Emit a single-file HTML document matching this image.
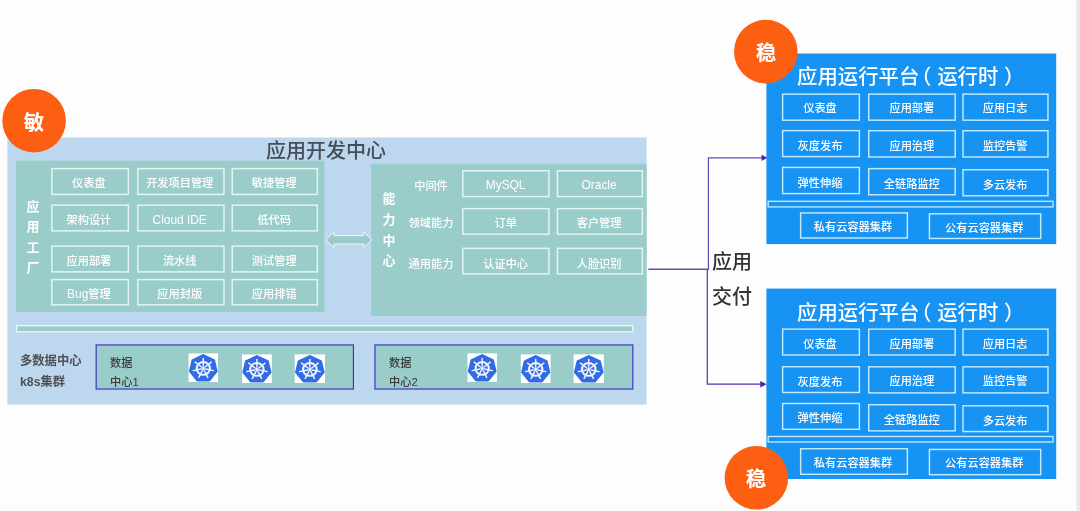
<!DOCTYPE html>
<html lang="zh-CN">
<head>
<meta charset="utf-8">
<title>应用开发中心</title>
<style>
*{margin:0;padding:0;box-sizing:border-box}
html,body{width:1080px;height:511px;overflow:hidden;background:#fdfdfd}
body{position:relative;font-family:"Liberation Sans","Noto Sans CJK SC",sans-serif}
#s{position:absolute;left:0;top:0;width:1100px;height:531px}
#s>*{position:absolute}
#g{left:0;top:0}
.t{white-space:nowrap;will-change:transform}
.b{color:#fff;font-size:11.2px;text-align:center;font-weight:500}
.h1{font-size:20px;color:#464e5a;text-align:center;font-weight:500}
.h2{font-size:20px;color:#333;font-weight:500}
.h3{font-size:20.4px;color:#fff;font-weight:500}
.p1{position:relative;left:-8.3px;margin-right:-2.5px}
.l{font-size:11.9px}
.p2{position:relative;left:5.5px}
.v{font-size:12.9px;font-weight:bold;color:#fff;text-align:center}
.w{font-size:11.2px;color:#fff;text-align:center;font-weight:500}
.g{font-size:12.3px;font-weight:bold;color:#515154}
.d{font-size:11.2px;color:#3a3a3a;font-weight:500}
.ct{font-size:20.5px;font-weight:bold;color:#fff;text-align:center}
</style>
</head>
<body>
<div id="s">
<svg id="g" width="1100" height="531" viewBox="0 0 1100 531">
<rect x="7.4" y="137.5" width="639.2" height="267.1" fill="#bdd7ee"/>
<rect x="16" y="160.7" width="308.4" height="151.3" fill="#9acdca"/>
<rect x="371.1" y="163.7" width="275.5" height="152.3" fill="#9acdca"/>
<rect x="51.83" y="168.62" width="76.55" height="25.75" fill="none" stroke="#e2f6f4" stroke-width="1.45"/>
<rect x="137.82" y="168.62" width="86.15" height="25.75" fill="none" stroke="#e2f6f4" stroke-width="1.45"/>
<rect x="232.22" y="168.62" width="85.15" height="25.75" fill="none" stroke="#e2f6f4" stroke-width="1.45"/>
<rect x="51.83" y="205.12" width="76.55" height="25.75" fill="none" stroke="#e2f6f4" stroke-width="1.45"/>
<rect x="137.82" y="205.12" width="86.15" height="25.75" fill="none" stroke="#e2f6f4" stroke-width="1.45"/>
<rect x="232.22" y="205.12" width="85.15" height="25.75" fill="none" stroke="#e2f6f4" stroke-width="1.45"/>
<rect x="51.83" y="246.12" width="76.55" height="25.75" fill="none" stroke="#e2f6f4" stroke-width="1.45"/>
<rect x="137.82" y="246.12" width="86.15" height="25.75" fill="none" stroke="#e2f6f4" stroke-width="1.45"/>
<rect x="232.22" y="246.12" width="85.15" height="25.75" fill="none" stroke="#e2f6f4" stroke-width="1.45"/>
<rect x="51.83" y="279.62" width="76.55" height="25.25" fill="none" stroke="#e2f6f4" stroke-width="1.45"/>
<rect x="137.82" y="279.62" width="86.15" height="25.25" fill="none" stroke="#e2f6f4" stroke-width="1.45"/>
<rect x="232.22" y="279.62" width="85.15" height="25.25" fill="none" stroke="#e2f6f4" stroke-width="1.45"/>
<rect x="462.82" y="170.72" width="86.05" height="25.85" fill="none" stroke="#e2f6f4" stroke-width="1.45"/>
<rect x="557.42" y="170.72" width="84.95" height="25.85" fill="none" stroke="#e2f6f4" stroke-width="1.45"/>
<rect x="462.82" y="208.62" width="86.05" height="25.55" fill="none" stroke="#e2f6f4" stroke-width="1.45"/>
<rect x="557.42" y="208.62" width="84.95" height="25.55" fill="none" stroke="#e2f6f4" stroke-width="1.45"/>
<rect x="462.82" y="248.32" width="86.05" height="25.55" fill="none" stroke="#e2f6f4" stroke-width="1.45"/>
<rect x="557.42" y="248.32" width="84.95" height="25.55" fill="none" stroke="#e2f6f4" stroke-width="1.45"/>
<path d="M325.6 239.8 L333.9 231.9 L333.9 235.6 L363.7 235.6 L363.7 231.9 L372 239.8 L363.7 247.7 L363.7 244 L333.9 244 L333.9 247.7 Z" fill="#9acdca" stroke="#ecf8f7" stroke-width="1" stroke-linejoin="miter"/>
<rect x="16.68" y="325.68" width="616.05" height="6.15" fill="#9acdca" stroke="#eaf8f7" stroke-width="1.35"/>
<rect x="96.17" y="344.97" width="257.25" height="44.05" fill="#9acdca" stroke="#3d31bd" stroke-width="1.15"/>
<rect x="374.97" y="344.97" width="257.85" height="44.05" fill="#9acdca" stroke="#3d31bd" stroke-width="1.15"/>
<g transform="translate(188.6 353.4) scale(0.2940 0.2860)"><rect width="100" height="100" fill="#fff"/><polygon points="50.0,7.0 85.6,24.1 94.4,62.6 69.7,93.5 30.3,93.5 5.6,62.6 14.4,24.1" fill="#326ce5" stroke="#326ce5" stroke-width="9" stroke-linejoin="round"/><g stroke="#eef3fd" stroke-width="5" stroke-linecap="round" fill="none"><line x1="50.0" y1="44.5" x2="50.0" y2="17.5"/><line x1="56.3" y1="47.5" x2="77.4" y2="30.7"/><line x1="57.8" y1="54.3" x2="84.1" y2="60.3"/><line x1="53.5" y1="59.7" x2="65.2" y2="84.0"/><line x1="46.5" y1="59.7" x2="34.8" y2="84.0"/><line x1="42.2" y1="54.3" x2="15.9" y2="60.3"/><line x1="43.7" y1="47.5" x2="22.6" y2="30.7"/><circle cx="50" cy="52.5" r="22.5" stroke-width="7"/></g><circle cx="50" cy="52.5" r="5.5" fill="#eef3fd"/></g>
<g transform="translate(242 354.4) scale(0.2980 0.2860)"><rect width="100" height="100" fill="#fff"/><polygon points="50.0,7.0 85.6,24.1 94.4,62.6 69.7,93.5 30.3,93.5 5.6,62.6 14.4,24.1" fill="#326ce5" stroke="#326ce5" stroke-width="9" stroke-linejoin="round"/><g stroke="#eef3fd" stroke-width="5" stroke-linecap="round" fill="none"><line x1="50.0" y1="44.5" x2="50.0" y2="17.5"/><line x1="56.3" y1="47.5" x2="77.4" y2="30.7"/><line x1="57.8" y1="54.3" x2="84.1" y2="60.3"/><line x1="53.5" y1="59.7" x2="65.2" y2="84.0"/><line x1="46.5" y1="59.7" x2="34.8" y2="84.0"/><line x1="42.2" y1="54.3" x2="15.9" y2="60.3"/><line x1="43.7" y1="47.5" x2="22.6" y2="30.7"/><circle cx="50" cy="52.5" r="22.5" stroke-width="7"/></g><circle cx="50" cy="52.5" r="5.5" fill="#eef3fd"/></g>
<g transform="translate(294.7 354.4) scale(0.3030 0.2860)"><rect width="100" height="100" fill="#fff"/><polygon points="50.0,7.0 85.6,24.1 94.4,62.6 69.7,93.5 30.3,93.5 5.6,62.6 14.4,24.1" fill="#326ce5" stroke="#326ce5" stroke-width="9" stroke-linejoin="round"/><g stroke="#eef3fd" stroke-width="5" stroke-linecap="round" fill="none"><line x1="50.0" y1="44.5" x2="50.0" y2="17.5"/><line x1="56.3" y1="47.5" x2="77.4" y2="30.7"/><line x1="57.8" y1="54.3" x2="84.1" y2="60.3"/><line x1="53.5" y1="59.7" x2="65.2" y2="84.0"/><line x1="46.5" y1="59.7" x2="34.8" y2="84.0"/><line x1="42.2" y1="54.3" x2="15.9" y2="60.3"/><line x1="43.7" y1="47.5" x2="22.6" y2="30.7"/><circle cx="50" cy="52.5" r="22.5" stroke-width="7"/></g><circle cx="50" cy="52.5" r="5.5" fill="#eef3fd"/></g>
<g transform="translate(467.5 353.4) scale(0.2940 0.2860)"><rect width="100" height="100" fill="#fff"/><polygon points="50.0,7.0 85.6,24.1 94.4,62.6 69.7,93.5 30.3,93.5 5.6,62.6 14.4,24.1" fill="#326ce5" stroke="#326ce5" stroke-width="9" stroke-linejoin="round"/><g stroke="#eef3fd" stroke-width="5" stroke-linecap="round" fill="none"><line x1="50.0" y1="44.5" x2="50.0" y2="17.5"/><line x1="56.3" y1="47.5" x2="77.4" y2="30.7"/><line x1="57.8" y1="54.3" x2="84.1" y2="60.3"/><line x1="53.5" y1="59.7" x2="65.2" y2="84.0"/><line x1="46.5" y1="59.7" x2="34.8" y2="84.0"/><line x1="42.2" y1="54.3" x2="15.9" y2="60.3"/><line x1="43.7" y1="47.5" x2="22.6" y2="30.7"/><circle cx="50" cy="52.5" r="22.5" stroke-width="7"/></g><circle cx="50" cy="52.5" r="5.5" fill="#eef3fd"/></g>
<g transform="translate(520.8 354.4) scale(0.2980 0.2860)"><rect width="100" height="100" fill="#fff"/><polygon points="50.0,7.0 85.6,24.1 94.4,62.6 69.7,93.5 30.3,93.5 5.6,62.6 14.4,24.1" fill="#326ce5" stroke="#326ce5" stroke-width="9" stroke-linejoin="round"/><g stroke="#eef3fd" stroke-width="5" stroke-linecap="round" fill="none"><line x1="50.0" y1="44.5" x2="50.0" y2="17.5"/><line x1="56.3" y1="47.5" x2="77.4" y2="30.7"/><line x1="57.8" y1="54.3" x2="84.1" y2="60.3"/><line x1="53.5" y1="59.7" x2="65.2" y2="84.0"/><line x1="46.5" y1="59.7" x2="34.8" y2="84.0"/><line x1="42.2" y1="54.3" x2="15.9" y2="60.3"/><line x1="43.7" y1="47.5" x2="22.6" y2="30.7"/><circle cx="50" cy="52.5" r="22.5" stroke-width="7"/></g><circle cx="50" cy="52.5" r="5.5" fill="#eef3fd"/></g>
<g transform="translate(573.6 354.4) scale(0.3030 0.2860)"><rect width="100" height="100" fill="#fff"/><polygon points="50.0,7.0 85.6,24.1 94.4,62.6 69.7,93.5 30.3,93.5 5.6,62.6 14.4,24.1" fill="#326ce5" stroke="#326ce5" stroke-width="9" stroke-linejoin="round"/><g stroke="#eef3fd" stroke-width="5" stroke-linecap="round" fill="none"><line x1="50.0" y1="44.5" x2="50.0" y2="17.5"/><line x1="56.3" y1="47.5" x2="77.4" y2="30.7"/><line x1="57.8" y1="54.3" x2="84.1" y2="60.3"/><line x1="53.5" y1="59.7" x2="65.2" y2="84.0"/><line x1="46.5" y1="59.7" x2="34.8" y2="84.0"/><line x1="42.2" y1="54.3" x2="15.9" y2="60.3"/><line x1="43.7" y1="47.5" x2="22.6" y2="30.7"/><circle cx="50" cy="52.5" r="22.5" stroke-width="7"/></g><circle cx="50" cy="52.5" r="5.5" fill="#eef3fd"/></g>
<g fill="none" stroke="#5a2db4" stroke-width="1.2"><path d="M648.5 269.3 H707.3 V384.2 H761"/><path d="M648.5 269.3 H708.4 V157.8 H762" stroke="#6a44bc"/></g><path d="M761.6 154.7 L767.4 157.8 L761.6 160.9 Z M760.3 380.9 L766.6 384.2 L760.3 387.5 Z" fill="#4c22a8"/>
<rect x="766.4" y="53.5" width="289.8" height="190.6" fill="#1793f4"/>
<rect x="782.62" y="94.12" width="76.75" height="26.05" fill="none" stroke="#c3eafc" stroke-width="1.45"/>
<rect x="868.73" y="94.12" width="86.45" height="26.05" fill="none" stroke="#c3eafc" stroke-width="1.45"/>
<rect x="963.02" y="94.12" width="84.95" height="26.05" fill="none" stroke="#c3eafc" stroke-width="1.45"/>
<rect x="782.62" y="130.62" width="76.75" height="25.95" fill="none" stroke="#c3eafc" stroke-width="1.45"/>
<rect x="868.73" y="130.72" width="86.45" height="26.25" fill="none" stroke="#c3eafc" stroke-width="1.45"/>
<rect x="963.02" y="130.72" width="84.95" height="26.25" fill="none" stroke="#c3eafc" stroke-width="1.45"/>
<rect x="782.62" y="167.43" width="76.75" height="26.15" fill="none" stroke="#c3eafc" stroke-width="1.45"/>
<rect x="868.73" y="168.62" width="86.45" height="26.15" fill="none" stroke="#c3eafc" stroke-width="1.45"/>
<rect x="963.02" y="169.72" width="84.95" height="26.05" fill="none" stroke="#c3eafc" stroke-width="1.45"/>
<rect x="768.17" y="201.28" width="284.85" height="5.65" fill="#1793f4" stroke="#c3eafc" stroke-width="1.35"/>
<rect x="800.62" y="212.93" width="106.75" height="25.05" fill="none" stroke="#c3eafc" stroke-width="1.45"/>
<rect x="929.42" y="213.82" width="111.25" height="24.65" fill="none" stroke="#c3eafc" stroke-width="1.45"/>
<rect x="766.4" y="288.6" width="289.8" height="190.4" fill="#1793f4"/>
<rect x="782.62" y="329.12" width="76.75" height="25.85" fill="none" stroke="#c3eafc" stroke-width="1.45"/>
<rect x="868.73" y="329.12" width="86.45" height="25.85" fill="none" stroke="#c3eafc" stroke-width="1.45"/>
<rect x="963.02" y="329.12" width="84.95" height="25.85" fill="none" stroke="#c3eafc" stroke-width="1.45"/>
<rect x="782.62" y="366.73" width="76.75" height="25.75" fill="none" stroke="#c3eafc" stroke-width="1.45"/>
<rect x="868.73" y="366.82" width="86.45" height="26.05" fill="none" stroke="#c3eafc" stroke-width="1.45"/>
<rect x="963.02" y="366.82" width="84.95" height="26.05" fill="none" stroke="#c3eafc" stroke-width="1.45"/>
<rect x="782.62" y="403.52" width="76.75" height="25.75" fill="none" stroke="#c3eafc" stroke-width="1.45"/>
<rect x="868.73" y="404.73" width="86.45" height="26.15" fill="none" stroke="#c3eafc" stroke-width="1.45"/>
<rect x="963.02" y="405.82" width="84.95" height="25.75" fill="none" stroke="#c3eafc" stroke-width="1.45"/>
<rect x="768.17" y="436.48" width="284.85" height="5.45" fill="#1793f4" stroke="#c3eafc" stroke-width="1.35"/>
<rect x="800.62" y="448.73" width="106.75" height="25.55" fill="none" stroke="#c3eafc" stroke-width="1.45"/>
<rect x="929.42" y="449.43" width="111.25" height="25.25" fill="none" stroke="#c3eafc" stroke-width="1.45"/>
<circle cx="34.1" cy="120.7" r="31.8" fill="#fc5e12"/>
<circle cx="765.8" cy="51.6" r="31.8" fill="#fc5e12"/>
<circle cx="756.4" cy="477.8" r="31.8" fill="#fc5e12"/>
<rect x="1076.3" y="-5" width="24" height="540" fill="#e8e8e8"/>
</svg>
<div class="t h1" style="left:266px;top:137.5px;width:120px;height:27px;line-height:27px;">应用开发中心</div>
<div class="t b" style="left:50.3px;top:172.5px;width:77.8px;height:20px;line-height:20px;">仪表盘</div>
<div class="t b" style="left:136.3px;top:172.5px;width:87.4px;height:20px;line-height:20px;">开发项目管理</div>
<div class="t b" style="left:230.7px;top:172.5px;width:86.4px;height:20px;line-height:20px;">敏捷管理</div>
<div class="t b" style="left:50.3px;top:210.1px;width:77.8px;height:20px;line-height:20px;">架构设计</div>
<div class="t b" style="left:136.3px;top:210.1px;width:87.4px;height:20px;line-height:20px;"><span class="l">Cloud IDE</span></div>
<div class="t b" style="left:230.7px;top:210.1px;width:86.4px;height:20px;line-height:20px;">低代码</div>
<div class="t b" style="left:50.3px;top:250.6px;width:77.8px;height:20px;line-height:20px;">应用部署</div>
<div class="t b" style="left:136.3px;top:250.6px;width:87.4px;height:20px;line-height:20px;">流水线</div>
<div class="t b" style="left:230.7px;top:250.6px;width:86.4px;height:20px;line-height:20px;">测试管理</div>
<div class="t b" style="left:50.3px;top:284.1px;width:77.8px;height:20px;line-height:20px;"><span class="l">Bug</span>管理</div>
<div class="t b" style="left:136.3px;top:284.1px;width:87.4px;height:20px;line-height:20px;">应用封版</div>
<div class="t b" style="left:230.7px;top:284.1px;width:86.4px;height:20px;line-height:20px;">应用排错</div>
<div class="t v" style="left:22.5px;top:197.1px;width:20px;height:20px;line-height:20px;">应</div>
<div class="t v" style="left:22.5px;top:216.7px;width:20px;height:20px;line-height:20px;">用</div>
<div class="t v" style="left:22.5px;top:237.9px;width:20px;height:20px;line-height:20px;">工</div>
<div class="t v" style="left:22.5px;top:258.2px;width:20px;height:20px;line-height:20px;">厂</div>
<div class="t b" style="left:461.6px;top:174.9px;width:87.3px;height:20px;line-height:20px;"><span class="l">MySQL</span></div>
<div class="t b" style="left:556.2px;top:174.9px;width:86.2px;height:20px;line-height:20px;"><span class="l">Oracle</span></div>
<div class="t b" style="left:461.6px;top:212.5px;width:87.3px;height:20px;line-height:20px;">订单</div>
<div class="t b" style="left:556.2px;top:212.5px;width:86.2px;height:20px;line-height:20px;">客户管理</div>
<div class="t b" style="left:461.6px;top:253.6px;width:87.3px;height:20px;line-height:20px;">认证中心</div>
<div class="t b" style="left:556.2px;top:253.6px;width:86.2px;height:20px;line-height:20px;">人脸识别</div>
<div class="t v" style="left:378.5px;top:188.8px;width:20px;height:20px;line-height:20px;">能</div>
<div class="t v" style="left:378.5px;top:209.6px;width:20px;height:20px;line-height:20px;">力</div>
<div class="t v" style="left:378.5px;top:230.6px;width:20px;height:20px;line-height:20px;">中</div>
<div class="t v" style="left:378.5px;top:250.6px;width:20px;height:20px;line-height:20px;">心</div>
<div class="t w" style="left:401px;top:176px;width:60px;height:20px;line-height:20px;">中间件</div>
<div class="t w" style="left:401px;top:212.8px;width:60px;height:20px;line-height:20px;">领域能力</div>
<div class="t w" style="left:401px;top:254px;width:60px;height:20px;line-height:20px;">通用能力</div>
<div class="t g" style="left:19.5px;top:350.6px;width:80px;height:20px;line-height:20px;">多数据中心</div>
<div class="t g" style="left:20px;top:372px;width:80px;height:20px;line-height:20px;">k8s集群</div>
<div class="t d" style="left:110px;top:353px;width:60px;height:20px;line-height:20px;">数据</div>
<div class="t d" style="left:110px;top:371.5px;width:60px;height:20px;line-height:20px;">中心1</div>
<div class="t d" style="left:388.5px;top:353px;width:60px;height:20px;line-height:20px;">数据</div>
<div class="t d" style="left:388.5px;top:371.5px;width:60px;height:20px;line-height:20px;">中心2</div>
<div class="t h2" style="left:712px;top:248px;width:42px;height:28px;line-height:28px;">应用</div>
<div class="t h2" style="left:712px;top:283px;width:42px;height:28px;line-height:28px;">交付</div>
<div class="t h3" style="left:797.4px;top:63.2px;width:230px;height:28px;line-height:28px">应用运行平台<span class="p1">（</span>运行时<span class="p2">）</span></div>
<div class="t b" style="left:781px;top:98.3px;width:78px;height:20px;line-height:20px;">仪表盘</div>
<div class="t b" style="left:867.6px;top:98.3px;width:87.7px;height:20px;line-height:20px;">应用部署</div>
<div class="t b" style="left:962.4px;top:98.3px;width:86.2px;height:20px;line-height:20px;">应用日志</div>
<div class="t b" style="left:781px;top:135.8px;width:78px;height:20px;line-height:20px;">灰度发布</div>
<div class="t b" style="left:867.6px;top:135.9px;width:87.7px;height:20px;line-height:20px;">应用治理</div>
<div class="t b" style="left:962.4px;top:135.9px;width:86.2px;height:20px;line-height:20px;">监控告警</div>
<div class="t b" style="left:781px;top:172.8px;width:78px;height:20px;line-height:20px;">弹性伸缩</div>
<div class="t b" style="left:867.6px;top:173.7px;width:87.7px;height:20px;line-height:20px;">全链路监控</div>
<div class="t b" style="left:962.4px;top:174.5px;width:86.2px;height:20px;line-height:20px;">多云发布</div>
<div class="t b" style="left:799.1px;top:217.3px;width:108px;height:20px;line-height:20px;">私有云容器集群</div>
<div class="t b" style="left:928.3px;top:217.8px;width:112.5px;height:20px;line-height:20px;">公有云容器集群</div>
<div class="t h3" style="left:797.4px;top:299.2px;width:230px;height:28px;line-height:28px">应用运行平台<span class="p1">（</span>运行时<span class="p2">）</span></div>
<div class="t b" style="left:781px;top:334px;width:78px;height:20px;line-height:20px;">仪表盘</div>
<div class="t b" style="left:867.6px;top:334px;width:87.7px;height:20px;line-height:20px;">应用部署</div>
<div class="t b" style="left:962.4px;top:334px;width:86.2px;height:20px;line-height:20px;">应用日志</div>
<div class="t b" style="left:781px;top:371.5px;width:78px;height:20px;line-height:20px;">灰度发布</div>
<div class="t b" style="left:867.6px;top:371.4px;width:87.7px;height:20px;line-height:20px;">应用治理</div>
<div class="t b" style="left:962.4px;top:371.4px;width:86.2px;height:20px;line-height:20px;">监控告警</div>
<div class="t b" style="left:781px;top:408.3px;width:78px;height:20px;line-height:20px;">弹性伸缩</div>
<div class="t b" style="left:867.6px;top:409.5px;width:87.7px;height:20px;line-height:20px;">全链路监控</div>
<div class="t b" style="left:962.4px;top:410.7px;width:86.2px;height:20px;line-height:20px;">多云发布</div>
<div class="t b" style="left:799.1px;top:452.8px;width:108px;height:20px;line-height:20px;">私有云容器集群</div>
<div class="t b" style="left:928.3px;top:453.3px;width:112.5px;height:20px;line-height:20px;">公有云容器集群</div>
<div class="t ct" style="left:14.1px;top:108.6px;width:40px;height:28px;line-height:28px;">敏</div>
<div class="t ct" style="left:745.8px;top:38.8px;width:40px;height:28px;line-height:28px;">稳</div>
<div class="t ct" style="left:736.4px;top:465.3px;width:40px;height:28px;line-height:28px;">稳</div>
</div>
</body>
</html>
